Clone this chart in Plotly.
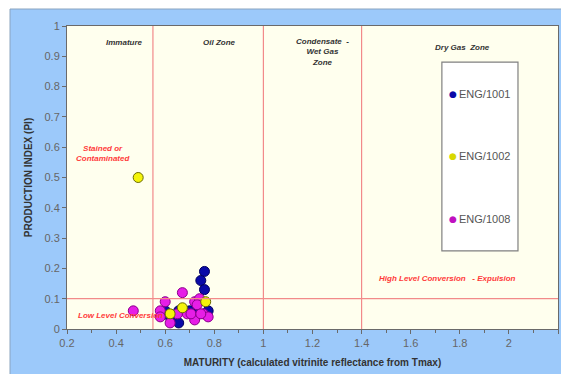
import plotly.graph_objects as go

# Sample series: maturity (calculated Ro from Tmax) vs production index
eng1001_x = [0.60, 0.62, 0.655, 0.655, 0.70, 0.735, 0.76, 0.745, 0.76, 0.775]
eng1001_y = [0.06, 0.04, 0.02, 0.06, 0.06, 0.05, 0.19, 0.16, 0.13, 0.06]

eng1002_x = [0.49, 0.62, 0.67, 0.765]
eng1002_y = [0.50, 0.05, 0.07, 0.09]

eng1008_x = [0.47, 0.60, 0.58, 0.58, 0.62, 0.67, 0.65, 0.69, 0.72, 0.74,
             0.73, 0.72, 0.755, 0.775, 0.705, 0.745]
eng1008_y = [0.06, 0.09, 0.06, 0.04, 0.02, 0.12, 0.05, 0.05, 0.09, 0.10,
             0.08, 0.03, 0.05, 0.04, 0.05, 0.05]

x_ticks = [0.2, 0.4, 0.6, 0.8, 1.0, 1.2, 1.4, 1.6, 1.8, 2.0, 2.2]
x_tick_text = ["0.2", "0.4", "0.6", "0.8", "1", "1.2", "1.4", "1.6", "1.8", "2", "2.2"]
y_ticks = [0, 0.1, 0.2, 0.3, 0.4, 0.5, 0.6, 0.7, 0.8, 0.9, 1.0]
y_tick_text = ["0", "0.1", "0.2", "0.3", "0.4", "0.5", "0.6", "0.7", "0.8", "0.9", "1"]

zone_bounds = [0.55, 1.0, 1.4]
pi_threshold = 0.1

# name, x, y, fill, outline (drawing order: blue, magenta, yellow on top)
series = [
    ("ENG/1001", eng1001_x, eng1001_y, "#0a0aa8", "#000060"),
    ("ENG/1008", eng1008_x, eng1008_y, "#e61ee6", "#8a008a"),
    ("ENG/1002", eng1002_x, eng1002_y, "#f4f40a", "#6b6b00"),
]
legend_order = ["ENG/1001", "ENG/1002", "ENG/1008"]
legend_key_colors = {"ENG/1001": "#0a0aa8", "ENG/1002": "#d8d800", "ENG/1008": "#c010c0"}

FONT = "Liberation Sans, Arial, sans-serif"
LINE_RED = "#f28a8a"

fig = go.Figure()

for name, xs, ys, fill, edge in series:
    fig.add_trace(go.Scatter(
        x=xs, y=ys, mode="markers", name=name, showlegend=False,
        marker=dict(size=10, color=fill, line=dict(color=edge, width=1)),
    ))

shapes = []
# Light blue chart frame
shapes.append(dict(type="rect", xref="paper", yref="paper", layer="below",
                   x0=-57 / 491, x1=1.01, y0=-0.16, y1=1 + 17 / 303,
                   fillcolor="#9cc9fa", line=dict(color="#8aa4bf", width=1)))
# Cream plotting area on top of the frame
shapes.append(dict(type="rect", xref="paper", yref="paper", layer="below",
                   x0=0, x1=1, y0=0, y1=1,
                   fillcolor="#ffffee", line=dict(width=0)))
# Zone boundaries
for xb in zone_bounds:
    shapes.append(dict(type="line", xref="x", yref="y", x0=xb, x1=xb, y0=0, y1=1,
                       line=dict(color=LINE_RED, width=1.2)))
shapes.append(dict(type="line", xref="x", yref="y", x0=0.2, x1=2.2,
                   y0=pi_threshold, y1=pi_threshold,
                   line=dict(color=LINE_RED, width=1.2)))
# Legend box
shapes.append(dict(type="rect", xref="x", yref="y", x0=1.727, x1=2.037, y0=0.258, y1=0.881,
                   fillcolor="white", line=dict(color="#808080", width=1.2)))

zone_font = dict(family=FONT, size=8, color="#333333")
red_font = dict(family=FONT, size=8, color="#ff3b3b")

annotations = [
    dict(x=0.436, y=0.944, text="<b><i>Immature</i></b>", font=zone_font),
    dict(x=0.823, y=0.944, text="<b><i>Oil Zone</i></b>", font=zone_font),
    dict(x=1.24, y=0.915, text="<b><i>Condensate  -<br>Wet Gas<br>Zone</i></b>", font=zone_font),
    dict(x=1.81, y=0.929, text="<b><i>Dry Gas  Zone</i></b>", font=zone_font),
    dict(x=0.347, y=0.58, text="<b><i>Stained or<br>Contaminated</i></b>", font=red_font),
    dict(x=0.237, y=0.044, xanchor="left", text="<b><i>Low Level Conversion</i></b>", font=red_font),
    dict(x=1.75, y=0.168, text="<b><i>High Level Conversion   - Expulsion</i></b>", font=red_font),
]

# Legend entries: coloured key dot followed by the series name
legend_key_y = [0.776, 0.571, 0.363]
for name, ky in zip(legend_order, legend_key_y):
    annotations.append(dict(x=1.772, y=ky, text="●", xanchor="center",
                            font=dict(family="DejaVu Sans", size=9,
                                      color=legend_key_colors[name])))
    annotations.append(dict(x=1.790, y=ky, text=name, xanchor="left",
                            font=dict(family=FONT, size=11, color="#555555")))

for a in annotations:
    a.update(xref="x", yref="y", showarrow=False)
    a.setdefault("xanchor", "center")
    a["yanchor"] = "middle"

fig.update_layout(
    width=561, height=374,
    margin=dict(l=67, r=3, t=26, b=45),
    paper_bgcolor="white",
    plot_bgcolor="#ffffee",
    font=dict(family=FONT, color="#555555"),
    shapes=shapes,
    annotations=annotations,
    showlegend=False,
)

axis_common = dict(
    showgrid=False, zeroline=False, showline=True, mirror=True,
    linecolor="#6a6a6a", linewidth=1,
    ticks="outside", ticklen=4, tickcolor="#6a6a6a",
    tickfont=dict(family=FONT, size=11, color="#666666"),
)

fig.update_xaxes(
    range=[0.2, 2.2], tickvals=x_ticks, ticktext=x_tick_text,
    minor=dict(dtick=0.1, ticks="outside", ticklen=3, tickcolor="#6a6a6a"),
    title=dict(text="<b>MATURITY (calculated vitrinite reflectance from Tmax)</b>",
               font=dict(family=FONT, size=10, color="#333333"), standoff=10),
    **axis_common,
)
fig.update_yaxes(
    range=[0, 1], tickvals=y_ticks, ticktext=y_tick_text,
    title=dict(text="<b>PRODUCTION INDEX (PI)</b>",
               font=dict(family=FONT, size=10, color="#333333"), standoff=10),
    **axis_common,
)

fig.write_html("out.html")
